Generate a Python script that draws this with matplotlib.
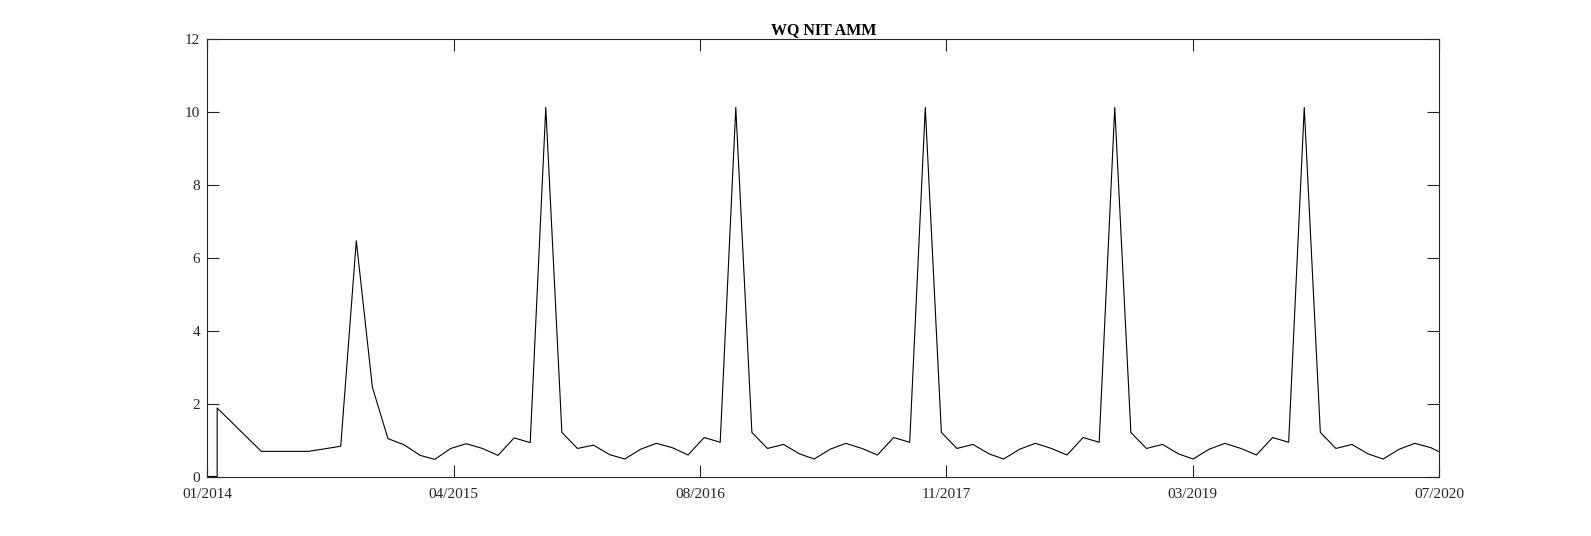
import numpy as np
import pandas as pd
import matplotlib
matplotlib.use("Agg")
import matplotlib.pyplot as plt
import matplotlib.dates as mdates

# irregular start of the record
start_dates = ["2014-01-01", "2014-01-20", "2014-01-20",
               "2014-04-15", "2014-07-15", "2014-09-15"]
start_vals = [0.0, 0.0, 1.88, 0.69, 0.69, 0.83]

# monthly samples (mid-month) from Oct 2014 to Jul 2020
monthly_vals = [
    6.47, 2.45, 1.04,                                             # Oct-Dec 2014
    0.87, 0.58, 0.47, 0.77, 0.90, 0.77, 0.58, 1.06, 0.93, 10.13, 1.21, 0.77,  # 2015
    0.86, 0.60, 0.48, 0.75, 0.91, 0.79, 0.59, 1.07, 0.94, 10.13, 1.21, 0.77,  # 2016
    0.88, 0.62, 0.48, 0.75, 0.91, 0.77, 0.59, 1.07, 0.94, 10.13, 1.21, 0.77,  # 2017
    0.88, 0.62, 0.48, 0.75, 0.91, 0.77, 0.59, 1.07, 0.94, 10.13, 1.21, 0.77,  # 2018
    0.88, 0.62, 0.48, 0.75, 0.91, 0.77, 0.59, 1.07, 0.94, 10.13, 1.21, 0.77,  # 2019
    0.88, 0.62, 0.48, 0.75, 0.91, 0.79, 0.58,                     # Jan-Jul 2020
]
monthly_dates = pd.date_range("2014-10-01", periods=len(monthly_vals),
                              freq="MS") + pd.Timedelta(days=14)

dates = list(pd.to_datetime(start_dates)) + list(monthly_dates)
vals = start_vals + monthly_vals

x_lo, x_hi = pd.Timestamp("2014-01-01"), pd.Timestamp("2020-07-01")
yticks = [0, 2, 4, 6, 8, 10, 12]

plt.rcParams["font.family"] = ["Liberation Serif", "DejaVu Serif"]

fig = plt.figure(figsize=(15.91, 5.36), dpi=100)
ax = fig.add_axes([0.1303, 0.111, 0.7743, 0.8157])
ax.plot(dates, vals, color="black", lw=0.8)

ax.set_xlim(x_lo, x_hi)
ax.set_ylim(0, 12)
ax.set_yticks(yticks)
lo, hi = mdates.date2num(x_lo), mdates.date2num(x_hi)
ax.set_xticks(np.linspace(lo, hi, 6))
ax.xaxis.set_major_formatter(mdates.DateFormatter("%m/%Y"))

for s in ax.spines.values():
    s.set_linewidth(0.8)
    s.set_color("0.15")
ax.tick_params(direction="in", length=8.5, width=0.8, color="0.15",
               labelcolor="0.15", labelsize=11, top=True, right=True)
ax.tick_params(axis="x", pad=8)
ax.tick_params(axis="y", pad=5)

ax.set_title("WQ NIT AMM", fontsize=11.5, fontweight="bold", pad=4)

fig.savefig("out.png", dpi=100)
